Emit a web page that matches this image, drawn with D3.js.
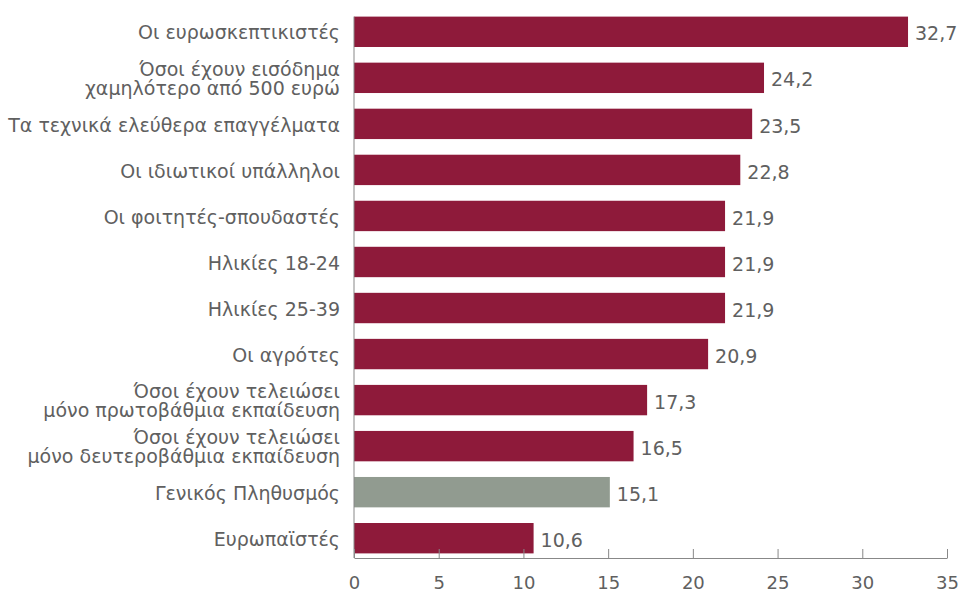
<!DOCTYPE html>
<html>
<head>
<meta charset="utf-8">
<script src="https://cdn.jsdelivr.net/npm/d3@7"></script>
<style>
  body { margin: 0; background: #fff; }
  text { font-family: "DejaVu Sans", sans-serif; fill: #606060; }
</style>
</head>
<body>
<div id="chart"></div>
<script>
// data
const categories = [
  'Οι ευρωσκεπτικιστές',
  'Όσοι έχουν εισόδημα|χαμηλότερο από 500 ευρώ',
  'Τα τεχνικά ελεύθερα επαγγέλματα',
  'Οι ιδιωτικοί υπάλληλοι',
  'Οι φοιτητές-σπουδαστές',
  'Ηλικίες 18-24',
  'Ηλικίες 25-39',
  'Οι αγρότες',
  'Όσοι έχουν τελειώσει|μόνο πρωτοβάθμια εκπαίδευση',
  'Όσοι έχουν τελειώσει|μόνο δευτεροβάθμια εκπαίδευση',
  'Γενικός Πληθυσμός',
  'Ευρωπαϊστές'
];
const values = [32.7, 24.2, 23.5, 22.8, 21.9, 21.9, 21.9, 20.9, 17.3, 16.5, 15.1, 10.6];
const highlight = 'Γενικός Πληθυσμός';
const xTicks = [0, 5, 10, 15, 20, 25, 30, 35];

const width = 961, height = 592;
const margin = { top: 12, right: 14, bottom: 34, left: 354 };
const innerW = width - margin.left - margin.right;
const innerH = height - margin.top - margin.bottom;

const svg = d3.select('#chart').append('svg').attr('width', width).attr('height', height);
const bounds = svg.append('g').attr('transform', `translate(${margin.left},${margin.top})`);

const x = d3.scaleLinear().domain([0, 35]).range([0, innerW]);
const y = d3.scaleBand().domain(categories).range([0, innerH]).paddingInner(0.34).paddingOuter(0.1);

const fmt = d => d3.format('.1f')(d).replace('.', ',');

bounds.selectAll('rect.bar')
  .data(categories)
  .enter()
  .append('rect')
  .attr('class', 'bar')
  .attr('x', 0)
  .attr('y', d => y(d))
  .attr('width', (d, i) => x(values[i]))
  .attr('height', y.bandwidth())
  .attr('fill', d => d === highlight ? '#919b90' : '#8e1a3a');

// value labels
bounds.selectAll('text.val')
  .data(categories)
  .enter()
  .append('text')
  .attr('class', 'val')
  .attr('x', (d, i) => x(values[i]) + 7)
  .attr('y', d => y(d) + y.bandwidth() / 2 + 2)
  .attr('dy', '0.35em')
  .attr('font-size', 19)
  .text((d, i) => fmt(values[i]));

// category labels
const labels = bounds.selectAll('text.cat')
  .data(categories)
  .enter()
  .append('text')
  .attr('class', 'cat')
  .attr('text-anchor', 'end')
  .attr('x', -14)
  .attr('y', d => y(d) + y.bandwidth() / 2 + 1)
  .attr('font-size', 19);

labels.each(function(d) {
  const lines = d.split('|');
  const t = d3.select(this);
  lines.forEach((line, k) => {
    t.append('tspan')
      .attr('x', -14)
      .attr('dy', k === 0 ? (0.35 - (lines.length - 1) * 0.5) + 'em' : '1.0em')
      .text(line);
  });
});

// x axis, ticks pointing up
const xAxis = d3.axisBottom(x).tickValues(xTicks).tickSize(-9).tickSizeOuter(0).tickPadding(18);
const gx = bounds.append('g')
  .attr('transform', `translate(0,${innerH})`)
  .call(xAxis);
gx.selectAll('path, line').attr('stroke', '#888');
gx.selectAll('text').attr('font-size', 18).attr('fill', '#606060').attr('font-family', '"DejaVu Sans", sans-serif');

// y axis line
bounds.append('line')
  .attr('x1', 0).attr('x2', 0)
  .attr('y1', y(categories[0])).attr('y2', innerH)
  .attr('stroke', '#888');
</script>
</body>
</html>
